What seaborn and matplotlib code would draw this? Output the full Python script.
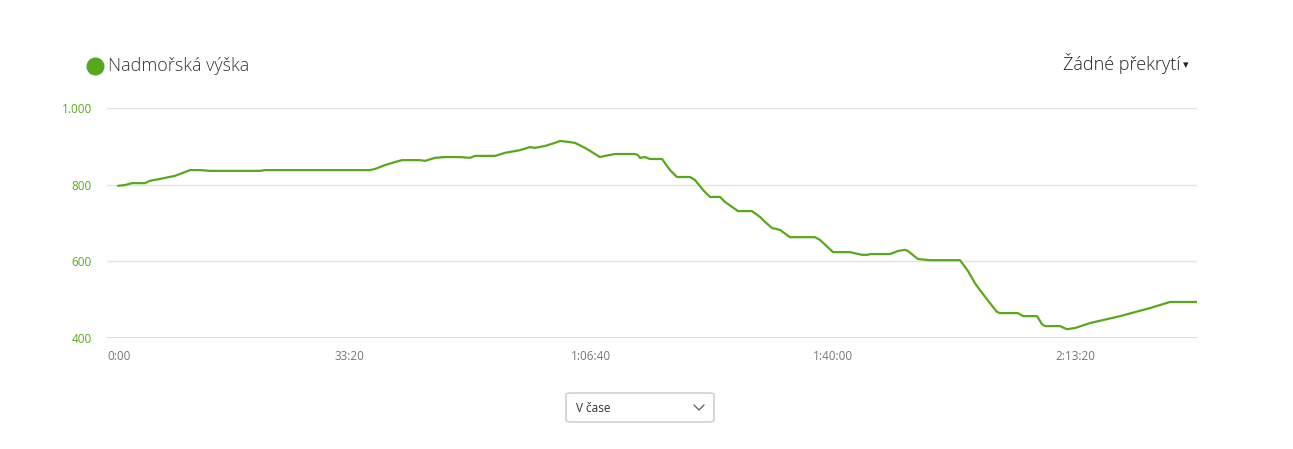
import numpy as np
import pandas as pd
import seaborn as sns
import matplotlib.pyplot as plt
from matplotlib.patches import FancyBboxPatch

# cas od startu v sekundach a nadmorska vyska v metrech
cas_s = [91, 149, 207, 314, 355, 438, 562, 645, 686, 769, 851, 1264, 1306,
         2173, 2215, 2297, 2380, 2438, 2587, 2628, 2711, 2793, 2917, 3000,
         3041, 3082, 3206, 3289, 3413, 3495, 3537, 3620, 3702, 3744, 3826,
         3868, 3950, 4008, 4074, 4115, 4198, 4363, 4388, 4405, 4446, 4487,
         4587, 4653, 4710, 4818, 4860, 4926, 4983, 5066, 5107, 5215, 5330,
         5396, 5438, 5495, 5562, 5644, 5727, 5851, 5892, 6000, 6140, 6239,
         6289, 6305, 6471, 6537, 6595, 6619, 6702, 6801, 7049, 7115, 7173,
         7214, 7297, 7355, 7380, 7528, 7570, 7686, 7727, 7752, 7876, 7933,
         8000, 8124, 8372, 8619, 8785, 8826, 9008]
vyska_m = [797, 799, 804, 804, 810, 815, 823, 833, 838, 838, 836, 836, 838,
           838, 841, 851, 859, 864, 864, 862, 870, 872, 872, 870,
           875, 875, 875, 883, 890, 898, 896, 901, 909, 914, 911,
           909, 896, 885, 872, 875, 880, 880, 877, 870, 872, 867,
           867, 838, 820, 820, 812, 786, 768, 768, 755, 731, 731,
           716, 703, 687, 682, 663, 663, 663, 656, 624, 624, 617,
           617, 619, 619, 627, 630, 627, 606, 603, 603, 575, 543,
           525, 491, 468, 465, 465, 457, 457, 436, 431, 431, 423,
           426, 439, 457, 478, 494, 494, 494]

y_ticks = [400, 600, 800, 1000]
y_labels = ["400", "600", "800", "1.000"]
x_ticks = [0, 2000, 4000, 6000, 8000]
x_labels = ["0:00", "33:20", "1:06:40", "1:40:00", "2:13:20"]

zelena = "#58a81c"
sns.set_style("white")
plt.rcParams["font.family"] = ["Open Sans", "DejaVu Sans"]

df = pd.DataFrame({"cas": cas_s, "vyska": vyska_m})

W, H = 1293, 449
fig = plt.figure(figsize=(W / 100, H / 100), dpi=100)
ax = fig.add_axes([107 / W, (H - 338) / H, 1090 / W, 230 / H])

sns.lineplot(data=df, x="cas", y="vyska", ax=ax, color=zelena, linewidth=1.6)

ax.set_xlim(0, 9008)
ax.set_ylim(400, 1000)
ax.set_xlabel("")
ax.set_ylabel("")
for s in ax.spines.values():
    s.set_visible(False)

# mrizka
for v in y_ticks[1:]:
    ax.axhline(v, color="#e3e3e3", lw=1, zorder=0)
ax.axhline(400, color="#cfd6dc", lw=1.2, zorder=0)

ax.set_yticks(y_ticks)
ax.set_yticklabels(y_labels, color=zelena, fontsize=8.5)
ax.tick_params(axis="y", length=0, pad=11)
ax.set_xticks(x_ticks)
ax.set_xticklabels(x_labels, color="#777777", fontsize=8.5)
ax.tick_params(axis="x", length=0, pad=9)
ax.get_xticklabels()[0].set_horizontalalignment("left")

# legenda
fig.lines.append(plt.Line2D([95 / W], [(H - 66) / H], transform=fig.transFigure,
                            marker="o", markersize=12, color=zelena, lw=0))
fig.text(108 / W, (H - 66) / H, "Nadmořská výška", fontsize=13, color="#333333",
         va="center", ha="left", fontweight="light")
fig.text(1180 / W, (H - 63) / H, "Žádné překrytí", fontsize=13, color="#222222",
         va="center", ha="right", fontweight="light")
fig.text(1183 / W, (H - 65) / H, "\u25be", fontsize=8, color="#222222",
         va="center", ha="left", family="DejaVu Sans")

# rozbalovaci nabidka dole
box = FancyBboxPatch((566 / W, (H - 422) / H), 148 / W, 29 / H,
                     boxstyle="round,pad=0,rounding_size=0.004",
                     transform=fig.transFigure, facecolor="white",
                     edgecolor="#c8c8c8", lw=1)
fig.patches.append(box)
fig.text(576 / W, (H - 408) / H, "V čase", fontsize=8.5, color="#333333",
         va="center", ha="left")
fig.lines.append(plt.Line2D([694 / W, 699 / W, 704 / W],
                            [(H - 405) / H, (H - 410) / H, (H - 405) / H],
                            transform=fig.transFigure, color="#666666", lw=1))

fig.savefig("out.png", dpi=100)
plt.close()
